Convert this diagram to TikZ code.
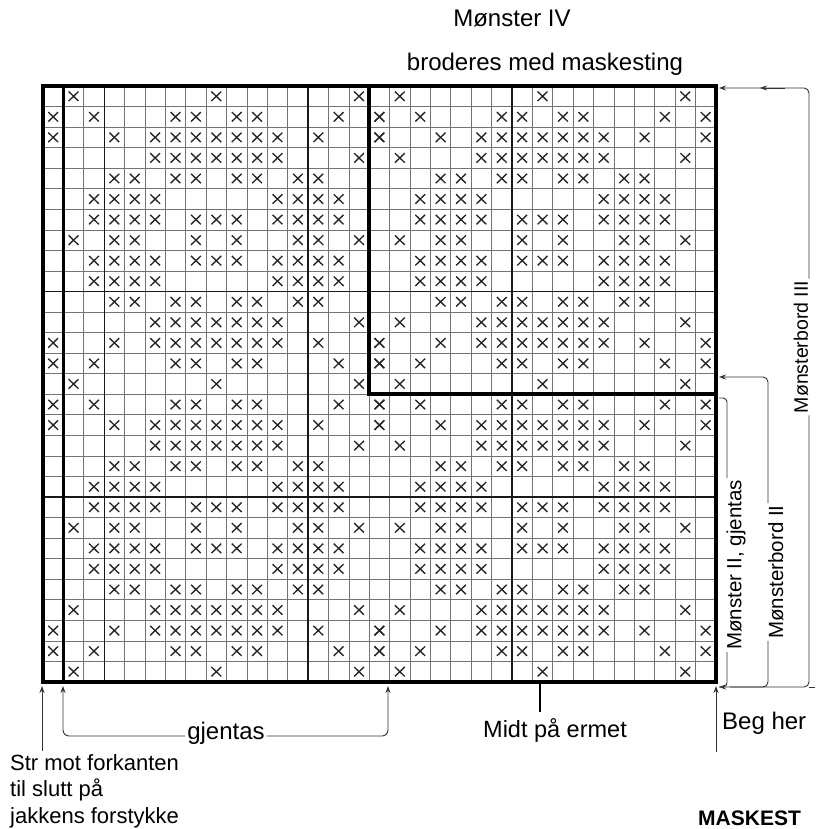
\documentclass[tikz,border=0pt]{standalone}
\usepackage{fontspec}
\setmainfont{Liberation Sans}
\usetikzlibrary{arrows.meta}
\expandafter\def\csname pat0\endcsname{1,8,15}
\expandafter\def\csname pat1\endcsname{0,2,6,7,9,10,14,16}
\expandafter\def\csname pat2\endcsname{0,3,5,6,7,8,9,10,11,13,16}
\expandafter\def\csname pat3\endcsname{1,5,6,7,8,9,10,11,15}
\expandafter\def\csname pat4\endcsname{3,4,6,7,9,10,12,13}
\expandafter\def\csname pat5\endcsname{2,3,4,5,11,12,13,14}
\expandafter\def\csname pat6\endcsname{2,3,4,5,7,8,9,11,12,13,14}
\expandafter\def\csname pat7\endcsname{1,3,4,7,9,12,13,15}
\begin{document}
\begin{tikzpicture}[x=1pt,y=-1pt,
  thingrid/.style={draw=black!55, line width=0.7pt},
  tengrid/.style={draw=black!90, line width=1.2pt},
  heavy/.style={draw=black, line width=3.6pt},
  xmark/.style={draw=black!85, line width=1.35pt},
  bline/.style={draw=black!80, line width=0.9pt},
  arr/.style={-{Stealth[length=7pt,width=5pt]}},
  lbl/.style={inner sep=0pt, font=\fontsize{24}{28}\selectfont},
  vlbl/.style={inner sep=2pt, rotate=90, font=\fontsize{20.5}{24}\selectfont},
]
\useasboundingbox (0,0) rectangle (815,829);
\fill[white] (0,0) rectangle (815,829);
% ---------- chart ----------
\begin{scope}[shift={(43,86)}, x=20.39pt, y=-20.55pt]
  \foreach \c in {0,...,33} \draw[thingrid] (\c,0) -- (\c,29);
  \foreach \r in {0,...,29} \draw[thingrid] (0,\r) -- (33,\r);
  \foreach \c in {3,13,23} \draw[tengrid] (\c,0) -- (\c,29);
  \foreach \r in {10,20} \draw[tengrid] (0,\r) -- (33,\r);
  \foreach \r in {0,...,28}{
    \pgfmathtruncatemacro\kk{min(mod(\r,14),14-mod(\r,14))}
    \edef\cur{\csname pat\kk\endcsname}
    \foreach \c in \cur {
      \pgfmathtruncatemacro\skipit{and(\c==1, or(\r==3, or(\r==11,\r==17)))}
      \ifnum\skipit=0
        \draw[xmark] (\c+0.26,\r+0.27) -- (\c+0.74,\r+0.73) (\c+0.26,\r+0.73) -- (\c+0.74,\r+0.27);
      \fi
      \draw[xmark] (\c+16.26,\r+0.27) -- (\c+16.74,\r+0.73) (\c+16.26,\r+0.73) -- (\c+16.74,\r+0.27);
    }
  }
  \draw[heavy] (0,0) rectangle (33,29);
  \draw[heavy] (1,0) -- (1,29);
  \draw[heavy, line join=miter] (16,0) -- (16,15) -- (33,15);
\end{scope}
% ---------- titles ----------
\node[lbl, anchor=base] (t1) at (512,27) {Mønster IV};
\node[lbl, anchor=base] (t2) at (545,71) {broderes med maskesting};
% ---------- right brackets ----------
\coordinate (x1) at (727,0);
\coordinate (x2) at (768,0);
\coordinate (x3) at (809,0);
\node[vlbl, font=\fontsize{19.5}{23}\selectfont] (mb3) at (801,347) {Mønsterbord III};
\draw[bline, rounded corners=5pt, arr] (mb3.east -| x3) -- (809,88) -- (719,88);
\draw[bline, arr] (785,88) -- (760,88);
\draw[bline, rounded corners=5pt, arr] (mb3.west -| x3) -- (809,687) -- (719,687);
\draw[bline] (809,687) -- (815,687);
\node[vlbl] (mb2) at (776,572) {Mønsterbord II};
\draw[bline, rounded corners=5pt, arr] (mb2.east -| x2) -- (768,377) -- (719,377);
\draw[bline, rounded corners=5pt] (mb2.west -| x2) -- (768,687) -- (730,687);
\node[vlbl] (m2) at (736,565) {Mønster II, gjentas};
\draw[bline, rounded corners=4pt] (m2.east -| x1) -- (727,398) -- (719,398);
\draw[bline, rounded corners=4pt] (m2.west -| x1) -- (727,687) -- (719,687);
% ---------- bottom ----------
\node[anchor=base west, inner sep=0pt, align=left, font=\fontsize{22}{26.5}\selectfont] (str) at (10,823) {Str mot forkanten\\til slutt på\\jakkens forstykke};
\coordinate (sx) at (42,0);
\draw[bline, arr] (str.north -| sx) ++(0,-3) -- (42,686);
\node[lbl, anchor=base] (gj) at (226,739) {gjentas};
\draw[bline, rounded corners=6pt, arr] ([xshift=-2pt]gj.west |- 0,736) -- (63,736) -- (63,686);
\draw[bline, rounded corners=6pt, arr] ([xshift=2pt]gj.east |- 0,736) -- (388,736) -- (388,686);
\node[lbl, anchor=base, font=\fontsize{23.5}{28}\selectfont] (mid) at (555,737) {Midt på ermet};
\draw[line width=2.5pt] (540,683) -- (540,712);
\node[lbl, anchor=base west] (beg) at (722,729) {Beg her};
\draw[bline, arr] (716,752) -- (716,686);
\node[anchor=base west, inner sep=0pt, font=\bfseries\fontsize{21}{25}\selectfont] (mk) at (698,825) {MASKEST};
\end{tikzpicture}
\end{document}
